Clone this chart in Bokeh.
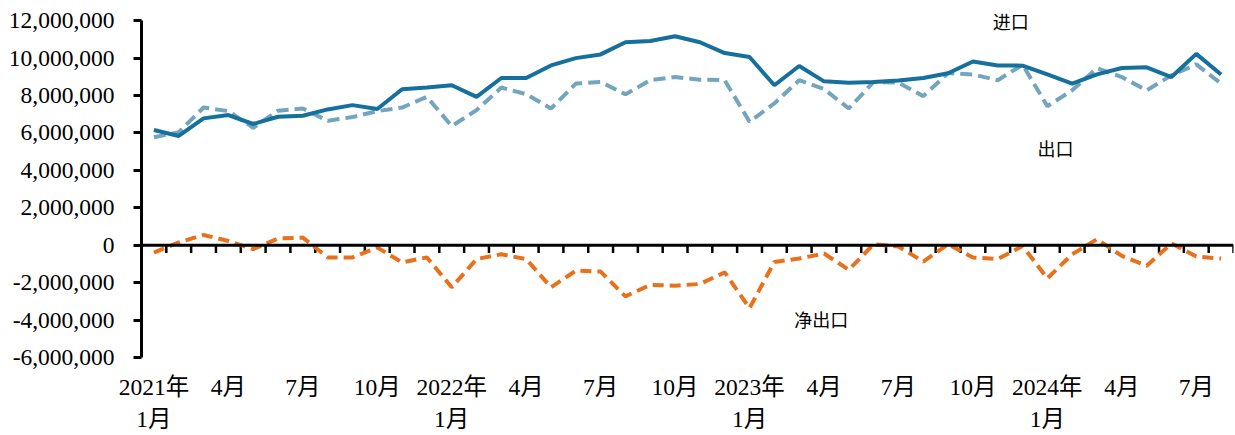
from bokeh.plotting import figure
from bokeh.models import Range1d, LinearAxis, FixedTicker, Label, Span
from bokeh.embed import file_html
from bokeh.resources import INLINE

months = [f"{y}-{m:02d}" for y in (2021, 2022, 2023, 2024) for m in range(1, 13)][:44]

imports = [6.16, 5.84, 6.78, 6.96, 6.48, 6.87, 6.92, 7.26, 7.49, 7.28,
           8.34, 8.43, 8.55, 7.93, 8.94, 8.94, 9.61, 10.0, 10.2, 10.85,
           10.92, 11.17, 10.85, 10.27, 10.06, 8.55, 9.58, 8.76, 8.69, 8.73,
           8.80, 8.94, 9.19, 9.82, 9.61, 9.60, 9.13, 8.64, 9.13, 9.47,
           9.51, 8.99, 10.23, 9.13]
exports = [5.77, 6.04, 7.36, 7.17, 6.28, 7.19, 7.31, 6.65, 6.85, 7.17,
           7.36, 7.93, 6.37, 7.22, 8.43, 8.07, 7.31, 8.64, 8.73, 8.07,
           8.82, 8.99, 8.85, 8.82, 6.60, 7.58, 8.82, 8.35, 7.31, 8.73,
           8.69, 7.97, 9.20, 9.13, 8.82, 9.65, 7.43, 8.28, 9.47, 8.99,
           8.28, 9.08, 9.67, 8.64]
net_exports = [-0.39, 0.15, 0.55, 0.23, -0.21, 0.36, 0.41, -0.65, -0.65, -0.12,
               -0.92, -0.65, -2.25, -0.74, -0.48, -0.74, -2.25, -1.36, -1.41, -2.73,
               -2.12, -2.16, -2.07, -1.45, -3.36, -0.89, -0.71, -0.44, -1.31, 0.05,
               -0.07, -0.87, 0.05, -0.65, -0.74, -0.04, -1.77, -0.48, 0.32, -0.57,
               -1.10, 0.10, -0.60, -0.71]

imports = [v * 1e6 for v in imports]
exports = [v * 1e6 for v in exports]
net_exports = [v * 1e6 for v in net_exports]

y_ticks = [-6e6, -4e6, -2e6, 0, 2e6, 4e6, 6e6, 8e6, 10e6, 12e6]

def month_label(s):
    y, m = s.split("-")
    m = int(m)
    if m == 1:
        return f"{y}年\n1月"
    if m in (4, 7, 10):
        return f"{m}月"
    return None

x = list(range(len(months)))
label_idx = [i for i, s in enumerate(months) if month_label(s)]
label_map = {i: month_label(months[i]) for i in label_idx}
boundaries = [i - 0.5 for i in range(1, len(months) + 1)]

FONT = "'Liberation Serif', 'Times New Roman', 'Noto Sans CJK SC', serif"
FS = "23.5px"

p = figure(width=1235, height=435, output_backend="svg", toolbar_location=None,
           x_range=Range1d(-0.5, len(months) - 0.5), y_range=Range1d(-6e6, 12.6e6),
           min_border_left=141, min_border_right=2, min_border_top=9, min_border_bottom=77,
           x_axis_location=None, y_axis_location=None)
p.outline_line_color = None
p.grid.visible = False
p.background_fill_color = "white"

# y axis (line limited to the tick span)
yax = LinearAxis(ticker=FixedTicker(ticks=y_ticks), bounds=(y_ticks[0], y_ticks[-1]))
yax.major_label_overrides = {t: f"{int(t):,}" for t in y_ticks}
yax.axis_line_width = 3
yax.axis_line_color = "black"
yax.major_tick_line_width = 3
yax.major_tick_out = 8
yax.major_tick_in = 0
yax.minor_tick_line_color = None
yax.major_label_standoff = 19
yax.major_label_text_font = FONT
yax.major_label_text_font_size = FS
yax.major_label_text_color = "black"
p.add_layout(yax, "left")

# category label axis at bottom
lax = LinearAxis(ticker=FixedTicker(ticks=label_idx))
lax.major_label_overrides = label_map
lax.axis_line_color = None
lax.major_tick_line_color = None
lax.minor_tick_line_color = None
lax.major_label_standoff = 10
lax.major_label_text_font = FONT
lax.major_label_text_font_size = FS
lax.major_label_text_color = "black"
lax.major_label_text_line_height = 1.25
p.add_layout(lax, "below")

# category boundary ticks hanging below the zero line
p.segment(x0=boundaries, x1=boundaries, y0=[0] * len(boundaries), y1=[-0.42e6] * len(boundaries),
          line_color="black", line_width=2.5)
p.add_layout(Span(location=0, dimension="width", line_color="black", line_width=3))

p.line(x, net_exports, line_color="#E9711C", line_width=4, line_dash="11 6")
p.line(x, exports, line_color="#74A5BF", line_width=4, line_dash="12 6")
p.line(x, imports, line_color="#15709E", line_width=4)

for txt, xi, yv in [("进口", 33.8, 12.0e6), ("出口", 35.6, 5.2e6), ("净出口", 25.8, -3.93e6)]:
    p.add_layout(Label(x=xi, y=yv, text=txt, text_font="'Noto Sans CJK SC', serif",
                       text_font_size="18px", text_color="black",
                       text_align="left", text_baseline="middle"))

open("out.html", "w").write(file_html(p, INLINE))
